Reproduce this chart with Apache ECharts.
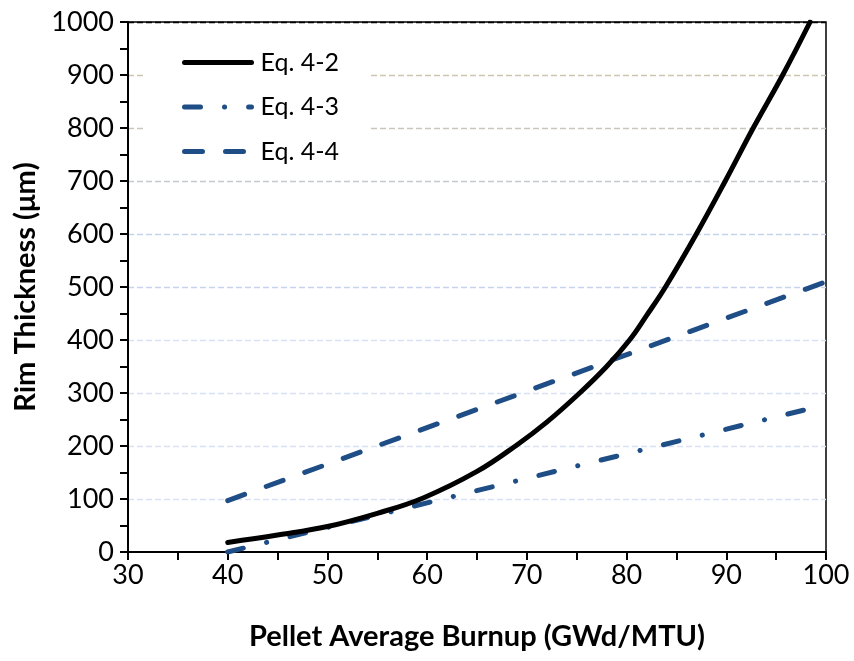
<!DOCTYPE html>
<html>
<head>
<meta charset="utf-8">
<script src="https://cdn.jsdelivr.net/npm/echarts@6/dist/echarts.min.js"></script>
<style>html,body{margin:0;padding:0;background:#fff}#c{width:854px;height:661px}</style>
</head>
<body>
<div id="c"></div>
<script>
// Data
const seriesNames = ['Eq. 4-2', 'Eq. 4-3', 'Eq. 4-4'];
const eq42 = [[40,18],[45,32],[50,48],[55,73],[59.6,102],[65,152],[69,202],[72,245],[75.3,300],[78,350],[80.3,400],[82,446],[83.9,500],[87,600],[89.9,700],[92.7,800],[95.66,900],[98.4,1000]];
const eq43 = [[40,0],[100,278]];
const eq44 = [[40,97],[100,510]];
const xTicks = [30,40,50,60,70,80,90,100];
const yTicks = [0,100,200,300,400,500,600,700,800,900,1000];

const FONT = 'Lato, "Open Sans", sans-serif';
const gridColors = ['#ffffff','#d8e1f3','#d8e1f3','#d8e1f3','#d8e1f3','#c5d3ee','#c5d3ed','#c4c8d0','#cac8be','#cbc7ae','#000000'];

const chart = echarts.init(document.getElementById('c'), null, {renderer:'canvas'});
chart.setOption({
  animation: false,
  backgroundColor: '#fff',
  grid: {left:128, right:28, top:22, bottom:109, show:true, borderColor:'#000', borderWidth:1.5, backgroundColor:'transparent'},
  legend: {
    data: seriesNames,
    orient: 'vertical',
    left: 145, top: 36,
    itemWidth: 67, itemHeight: 25, itemGap: 19.5,
    backgroundColor: '#fff',
    padding: [14, 32, 12, 37],
    itemStyle: {color: 'transparent', borderWidth: 0, opacity: 0},
    lineStyle: {width: 5, cap: 'round'},
    textStyle: {fontFamily: FONT, fontSize: 25, color:'#000', padding:[0,0,0,4]}
  },
  xAxis: {
    type: 'value', min: xTicks[0], max: xTicks[xTicks.length-1], interval: 10,
    name: 'Pellet Average Burnup (GWd/MTU)', nameLocation: 'middle', nameGap: 70,
    nameTextStyle: {fontFamily: FONT, fontSize: 29, fontWeight: 'bold', color:'#000'},
    axisLine: {show:true, onZero:false, lineStyle:{color:'#000', width:2}},
    axisTick: {show:true, inside:false, length:8, lineStyle:{color:'#000', width:2}},
    minorTick: {show:true, splitNumber:2, length:8, lineStyle:{color:'#000', width:2}},
    axisLabel: {fontFamily: FONT, fontSize: 27, color:'#000', margin: 10},
    splitLine: {show:false}
  },
  yAxis: {
    type: 'value', min: yTicks[0], max: yTicks[yTicks.length-1], interval: 100,
    name: 'Rim Thickness (μm)', nameLocation: 'middle', nameGap: 86,
    nameTextStyle: {fontFamily: FONT, fontSize: 29, fontWeight: 'bold', color:'#000'},
    axisLine: {show:true, onZero:false, lineStyle:{color:'#000', width:2}},
    axisTick: {show:true, inside:false, length:8, lineStyle:{color:'#000', width:2}},
    minorTick: {show:true, splitNumber:2, length:8, lineStyle:{color:'#000', width:2}},
    axisLabel: {fontFamily: FONT, fontSize: 27, color:'#000', margin: 14, formatter: v => String(v)},
    splitLine: {show:true, lineStyle:{color: gridColors, width:1.3, type:[6,3]}}
  },
  series: [
    {name: seriesNames[0], type:'line', data: eq42, smooth: 0.4, symbol:'none',
     lineStyle:{color:'#000', width:5, cap:'round'}, itemStyle:{color:'#000'}, z:4},
    {name: seriesNames[1], type:'line', data: eq43, symbol:'none',
     lineStyle:{color:'#1f4e87', width:5, type:[16,24,0.1,24], cap:'round'}, itemStyle:{color:'#1f4e87'}, z:3},
    {name: seriesNames[2], type:'line', data: eq44, symbol:'none',
     lineStyle:{color:'#1f4e87', width:5, type:[18,23], cap:'round'}, itemStyle:{color:'#1f4e87'}, z:3}
  ]
});
</script>
</body>
</html>
